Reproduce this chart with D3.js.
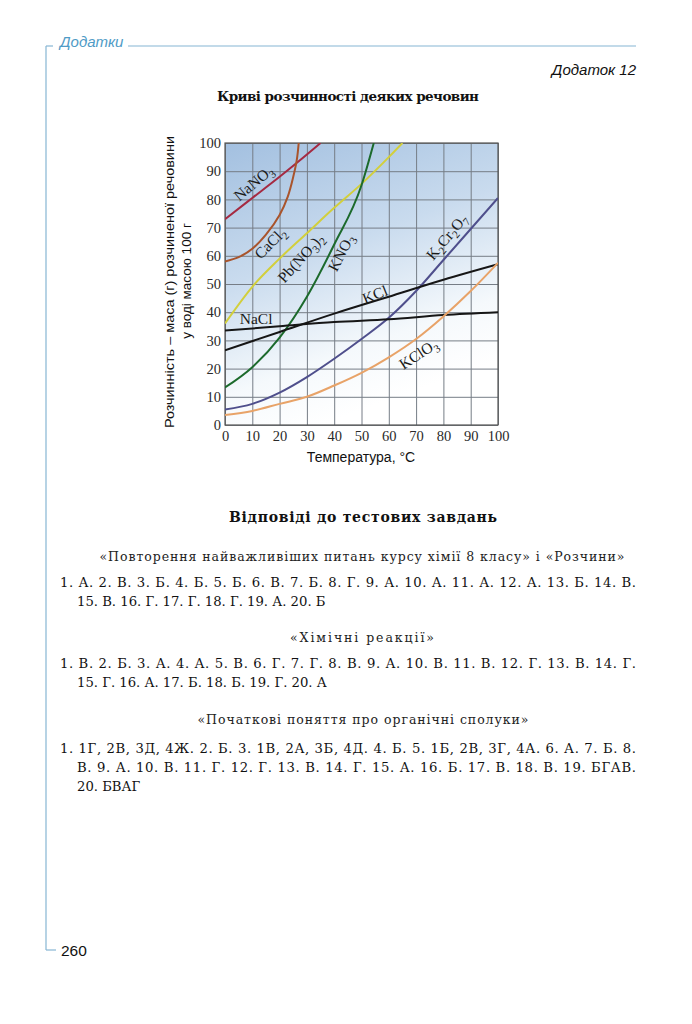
<!DOCTYPE html>
<html>
<head>
<meta charset="utf-8">
<script src="https://cdn.jsdelivr.net/npm/d3@7"></script>
<style>
  html, body { margin: 0; padding: 0; background: #fff; }
  svg { display: block; }
</style>
</head>
<body>
<svg id="page" width="692" height="1024"></svg>
<script>
// ---------------- DATA ----------------
const xTicks = [0, 10, 20, 30, 40, 50, 60, 70, 80, 90, 100];
const yTicks = [0, 10, 20, 30, 40, 50, 60, 70, 80, 90, 100];

const nano3T  = [0, 10, 20, 27, 35];
const nano3S  = [73, 80.5, 88, 93.5, 100];
const cacl2T  = [0, 5, 10, 15, 20, 23, 25, 26.3, 27];
const cacl2S  = [58, 59.5, 62.5, 67.5, 74.5, 81, 88, 94, 100];
const pbno3T  = [0, 10, 20, 30, 40, 50, 60, 65];
const pbno3S  = [36, 49, 59, 68, 77, 85.5, 95, 100];
const kno3T   = [0, 10, 20, 30, 40, 50, 54.5];
const kno3S   = [13.3, 20.5, 31, 45.5, 64, 85, 100];
const k2cr2o7T = [0, 10, 20, 30, 40, 50, 60, 70, 80, 90, 100];
const k2cr2o7S = [5.5, 7.5, 11.5, 17, 23.5, 30.5, 38, 47.5, 58.5, 69.5, 80.5];
const kclT    = [0, 20, 40, 60, 80, 100];
const kclS    = [26.5, 33, 39.5, 45.5, 51.5, 57];
const naclT   = [0, 20, 40, 60, 80, 100];
const naclS   = [33.5, 35, 36.5, 37.5, 39, 40];
const kclo3T  = [0, 10, 20, 30, 40, 50, 60, 70, 80, 90, 100];
const kclo3S  = [3.5, 5, 7.5, 10, 14, 18.5, 24, 30.5, 38.5, 47.5, 57.5];

const seriesNames = ["NaNO3", "CaCl2", "Pb(NO3)2", "KNO3", "K2Cr2O7", "KCl", "NaCl", "KClO3"];

const chartTitle = "Криві розчинності деяких речовин";
const xTitle = "Температура, °C";
const yTitle1 = "Розчинність – маса (г) розчиненої речовини";
const yTitle2 = "у воді масою 100 г";

const answersTitle = "Відповіді до тестових завдань";
const sec1Title = "«Повторення найважливіших питань курсу хімії 8 класу» і «Розчини»";
const sec1Lines = ["1. А. 2. В. 3. Б. 4. Б. 5. Б. 6. В. 7. Б. 8. Г. 9. А. 10. А. 11. А. 12. А. 13. Б. 14. В.",
                   "15. В. 16. Г. 17. Г. 18. Г. 19. А. 20. Б"];
const sec2Title = "«Хімічні реакції»";
const sec2Lines = ["1. В. 2. Б. 3. А. 4. А. 5. В. 6. Г. 7. Г. 8. В. 9. А. 10. В. 11. В. 12. Г. 13. В. 14. Г.",
                   "15. Г. 16. А. 17. Б. 18. Б. 19. Г. 20. А"];
const sec3Title = "«Початкові поняття про органічні сполуки»";
const sec3Lines = ["1. 1Г, 2В, 3Д, 4Ж. 2. Б. 3. 1В, 2А, 3Б, 4Д. 4. Б. 5. 1Б, 2В, 3Г, 4А. 6. А. 7. Б. 8.",
                   "В. 9. А. 10. В. 11. Г. 12. Г. 13. В. 14. Г. 15. А. 16. Б. 17. В. 18. В. 19. БГАВ.",
                   "20. БВАГ"];

// ---------------- LAYOUT / STYLE ----------------
const svg = d3.select("#page");
const X0 = 225, X1 = 498, Y0 = 425, Y1 = 143;
const x = d3.scaleLinear().domain([0, 100]).range([X0, X1]);
const y = d3.scaleLinear().domain([0, 100]).range([Y0, Y1]);

const styles = {
  "NaNO3":   { color: "#a52a42", curve: d3.curveMonotoneX },
  "CaCl2":   { color: "#a9542c", curve: d3.curveCatmullRom.alpha(0.5) },
  "Pb(NO3)2":{ color: "#d2cf3c", curve: d3.curveMonotoneX },
  "KNO3":    { color: "#1c6a2c", curve: d3.curveMonotoneX },
  "K2Cr2O7": { color: "#4f4f8c", curve: d3.curveMonotoneX },
  "KCl":     { color: "#161616", curve: d3.curveMonotoneX },
  "NaCl":    { color: "#161616", curve: d3.curveMonotoneX },
  "KClO3":   { color: "#e8a368", curve: d3.curveMonotoneX }
};
const seriesData = {
  "NaNO3": [nano3T, nano3S], "CaCl2": [cacl2T, cacl2S], "Pb(NO3)2": [pbno3T, pbno3S],
  "KNO3": [kno3T, kno3S], "K2Cr2O7": [k2cr2o7T, k2cr2o7S], "KCl": [kclT, kclS],
  "NaCl": [naclT, naclS], "KClO3": [kclo3T, kclo3S]
};

// label annotation placement (data coords + rotation)
const labelPlacement = {
  "NaNO3":   { t: 10.4, s: 85.9, a: -40, parts: [["NaNO", 0], ["3", 1]] },
  "CaCl2":   { t: 16.5, s: 64.6, a: -45, parts: [["CaCl", 0], ["2", 1]] },
  "Pb(NO3)2":{ t: 27.7, s: 59.3, a: -48, parts: [["Pb(NO", 0], ["3", 1], [")", 0], ["2", 1]] },
  "KNO3":    { t: 42.4, s: 61.1, a: -63, parts: [["KNO", 0], ["3", 1]] },
  "K2Cr2O7": { t: 81.2, s: 66.8, a: -50, parts: [["K", 0], ["2", 1], ["Cr", 0], ["2", 1], ["O", 0], ["7", 1]] },
  "KCl":     { t: 54.9, s: 46.3, a: -22, parts: [["KCl", 0]] },
  "NaCl":    { t: 11.4, s: 37.8, a: 0,   parts: [["NaCl", 0]] },
  "KClO3":   { t: 70.8, s: 25.2, a: -33, parts: [["KClO", 0], ["3", 1]] }
};

// ---------------- PAGE FRAME ----------------
const frame = "#86b6d3";
svg.append("line").attr("x1", 46).attr("y1", 46).attr("x2", 46).attr("y2", 950)
  .attr("stroke", frame).attr("stroke-width", 1.2);
svg.append("line").attr("x1", 46).attr("y1", 46).attr("x2", 53).attr("y2", 46)
  .attr("stroke", frame).attr("stroke-width", 1.2);
svg.append("line").attr("x1", 128).attr("y1", 46).attr("x2", 636).attr("y2", 46)
  .attr("stroke", frame).attr("stroke-width", 1.2);
svg.append("line").attr("x1", 46).attr("y1", 950).attr("x2", 56).attr("y2", 950)
  .attr("stroke", frame).attr("stroke-width", 1.2);
svg.append("text").attr("x", 60).attr("y", 47)
  .attr("font-family", "Liberation Sans, Arial, sans-serif").attr("font-style", "italic")
  .attr("font-size", 15).attr("fill", "#4f9bc6").text("Додатки");
svg.append("text").attr("x", 636).attr("y", 75).attr("text-anchor", "end")
  .attr("font-family", "Liberation Sans, Arial, sans-serif").attr("font-style", "italic")
  .attr("font-size", 15).attr("fill", "#111").text("Додаток 12");
svg.append("text").attr("x", 61).attr("y", 956)
  .attr("font-family", "Liberation Sans, Arial, sans-serif")
  .attr("font-size", 15.5).attr("fill", "#111").text("260");

// ---------------- CHART ----------------
svg.append("text").attr("x", 348).attr("y", 101).attr("text-anchor", "middle")
  .attr("font-family", "DejaVu Serif, serif").attr("font-weight", "bold")
  .attr("font-size", 13.5).attr("textLength", 262).attr("lengthAdjust", "spacing")
  .attr("fill", "#111").text(chartTitle);

const defs = svg.append("defs");
const grad = defs.append("linearGradient").attr("id", "bg")
  .attr("x1", 0).attr("y1", 0).attr("x2", 0.35).attr("y2", 1);
grad.append("stop").attr("offset", 0).attr("stop-color", "#a3c0e0");
grad.append("stop").attr("offset", 0.45).attr("stop-color", "#c9dbee");
grad.append("stop").attr("offset", 0.8).attr("stop-color", "#f5f9fc");
grad.append("stop").attr("offset", 1).attr("stop-color", "#ffffff");
defs.append("clipPath").attr("id", "plotClip").append("rect")
  .attr("x", X0).attr("y", Y1).attr("width", X1 - X0).attr("height", Y0 - Y1);

svg.append("rect").attr("x", X0).attr("y", Y1).attr("width", X1 - X0).attr("height", Y0 - Y1)
  .attr("fill", "url(#bg)");

// grid via axes
const gx = svg.append("g").attr("transform", `translate(0,${Y0})`)
  .call(d3.axisBottom(x).tickValues(xTicks).tickSize(-(Y0 - Y1)).tickFormat(""));
gx.select(".domain").remove();
gx.selectAll("line").attr("stroke", "#767d86").attr("stroke-width", 1);
const gy = svg.append("g").attr("transform", `translate(${X0},0)`)
  .call(d3.axisLeft(y).tickValues(yTicks).tickSize(-(X1 - X0)).tickFormat(""));
gy.select(".domain").remove();
gy.selectAll("line").attr("stroke", "#767d86").attr("stroke-width", 1);

svg.append("rect").attr("x", X0).attr("y", Y1).attr("width", X1 - X0).attr("height", Y0 - Y1)
  .attr("fill", "none").attr("stroke", "#555").attr("stroke-width", 1.2);

// tick labels via axes
const ax = svg.append("g").attr("transform", `translate(0,${Y0})`)
  .call(d3.axisBottom(x).tickValues(xTicks).tickSize(0).tickPadding(6).tickFormat(d3.format("d")));
ax.select(".domain").remove();
ax.selectAll("text").attr("font-family", "Liberation Serif, Times New Roman, serif")
  .attr("font-size", 14.5).attr("fill", "#2a2a2a");
const ay = svg.append("g").attr("transform", `translate(${X0},0)`)
  .call(d3.axisLeft(y).tickValues(yTicks).tickSize(0).tickPadding(4).tickFormat(d3.format("d")));
ay.select(".domain").remove();
ay.selectAll("text").attr("font-family", "Liberation Serif, Times New Roman, serif")
  .attr("font-size", 14.5).attr("fill", "#2a2a2a");

// curves
const plot = svg.append("g").attr("clip-path", "url(#plotClip)");
seriesNames.forEach(name => {
  const [ts, ss] = seriesData[name];
  const pts = ts.map((t, i) => [t, ss[i]]);
  const line = d3.line().x(d => x(d[0])).y(d => y(d[1])).curve(styles[name].curve);
  plot.append("path").attr("d", line(pts)).attr("fill", "none")
    .attr("stroke", styles[name].color).attr("stroke-width", 2);
});

// labels
seriesNames.forEach(name => {
  const p = labelPlacement[name];
  const cx = x(p.t), cy = y(p.s);
  const t = svg.append("text")
    .attr("transform", `translate(${cx},${cy}) rotate(${p.a})`)
    .attr("text-anchor", "middle").attr("dy", "0.35em")
    .attr("font-family", "Liberation Serif, Times New Roman, serif")
    .attr("font-size", 15.5).attr("fill", "#1a1a1a");
  let sub = false;
  p.parts.forEach(([txt, isSub]) => {
    const ts = t.append("tspan").text(txt);
    if (isSub && !sub) { ts.attr("dy", 4).attr("font-size", 11); sub = true; }
    else if (isSub && sub) { ts.attr("font-size", 11); }
    else if (!isSub && sub) { ts.attr("dy", -4); sub = false; }
  });
});

// axis titles
svg.append("text").attr("x", 361).attr("y", 462).attr("text-anchor", "middle")
  .attr("font-family", "Liberation Sans, Arial, sans-serif").attr("font-size", 14)
  .attr("fill", "#111").text(xTitle);
svg.append("text").attr("transform", "translate(174,282) rotate(-90)").attr("text-anchor", "middle")
  .attr("font-family", "Liberation Sans, Arial, sans-serif").attr("font-size", 13.5)
  .attr("textLength", 292).attr("lengthAdjust", "spacingAndGlyphs")
  .attr("fill", "#111").text(yTitle1);
svg.append("text").attr("transform", "translate(191,281) rotate(-90)").attr("text-anchor", "middle")
  .attr("font-family", "Liberation Sans, Arial, sans-serif").attr("font-size", 13.5)
  .attr("fill", "#111").text(yTitle2);

// ---------------- ANSWERS ----------------
const serif = "DejaVu Serif, serif";
svg.append("text").attr("x", 363).attr("y", 522).attr("text-anchor", "middle")
  .attr("font-family", serif).attr("font-weight", "bold").attr("font-size", 14)
  .attr("textLength", 268).attr("lengthAdjust", "spacing").attr("fill", "#111").text(answersTitle);

function section(title, tx, tw, ty, lines, ys, justify) {
  svg.append("text").attr("x", tx).attr("y", ty).attr("text-anchor", "middle")
    .attr("font-family", serif).attr("font-size", 12.5).attr("textLength", tw)
    .attr("lengthAdjust", "spacing").attr("fill", "#222").text(title);
  lines.forEach((ln, i) => {
    const x0 = i === 0 ? 60 : 77;
    const t = svg.append("text").attr("x", x0).attr("y", ys[i])
      .attr("font-family", serif).attr("font-size", 13.2).attr("fill", "#111").text(ln);
    if (justify[i]) t.attr("textLength", 636 - x0).attr("lengthAdjust", "spacing");
  });
}
section(sec1Title, 362, 525, 561, sec1Lines, [587, 606], [true, false]);
section(sec2Title, 362, 144, 642, sec2Lines, [668, 687], [true, false]);
section(sec3Title, 363, 331, 724, sec3Lines, [753, 772, 791], [true, true, false]);
</script>
</body>
</html>
